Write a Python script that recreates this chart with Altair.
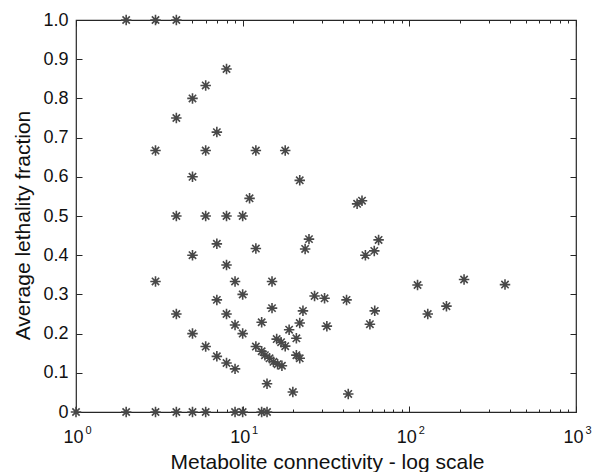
import altair as alt
import pandas as pd

# Data
connectivity = [
    2, 3, 4,
    8, 6, 5, 4, 7, 3, 6, 12, 18, 22, 5, 11, 48.6, 52,
    4, 6, 8, 10,
    7, 12, 5, 8, 25, 23.7, 65.4, 61.6, 54.5,
    3, 9, 15, 10, 7, 27, 31, 42, 112, 213, 375, 167, 129,
    4, 8, 15, 23, 62, 9, 22, 32, 58, 13, 5, 10, 19, 21, 16, 17, 18,
    6, 12, 7, 13, 13.6, 14.5, 15.3, 16.2, 17.2, 21, 22, 8, 9, 14, 20, 43,
    1, 2, 3, 4, 5, 6, 9, 10, 13, 14,
]
lethality = [
    1.0, 1.0, 1.0,
    0.875, 0.833, 0.8, 0.75, 0.714, 0.667, 0.667, 0.667, 0.667, 0.591, 0.6, 0.545, 0.531, 0.539,
    0.5, 0.5, 0.5, 0.5,
    0.429, 0.417, 0.4, 0.375, 0.441, 0.416, 0.439, 0.411, 0.40,
    0.333, 0.333, 0.333, 0.3, 0.286, 0.296, 0.290, 0.286, 0.324, 0.338, 0.325, 0.27, 0.25,
    0.25, 0.25, 0.265, 0.258, 0.258, 0.222, 0.227, 0.219, 0.224, 0.229, 0.2, 0.2, 0.21, 0.188, 0.186, 0.178, 0.168,
    0.167, 0.167, 0.142, 0.155, 0.145, 0.137, 0.128, 0.122, 0.118, 0.145, 0.137, 0.125, 0.11, 0.072, 0.051, 0.046,
    0, 0, 0, 0, 0, 0, 0, 0, 0, 0,
]

x_major = [1, 10, 100, 1000]
x_minor = [2, 3, 4, 5, 6, 7, 8, 9, 20, 30, 40, 50, 60, 70, 80, 90,
           200, 300, 400, 500, 600, 700, 800, 900]
y_ticks = [0, 0.1, 0.2, 0.3, 0.4, 0.5, 0.6, 0.7, 0.8, 0.9, 1.0]

df = pd.DataFrame({"connectivity": connectivity, "lethality": lethality})

W, H = 500, 392
FONT = "Liberation Sans"
AX = "#262626"
xscale = alt.Scale(type="log", domain=[1, 1000], nice=False)
yscale = alt.Scale(domain=[0, 1], nice=False, zero=False)
star = "M-1,0L1,0M0,-1L0,1M-0.7,-0.7L0.7,0.7M-0.7,0.7L0.7,-0.7"


def tick_axis(orient, offset, values, size):
    return alt.Axis(orient=orient, offset=offset, values=values, labels=False,
                    domain=False, grid=False, ticks=True, tickSize=size,
                    tickColor=AX, tickWidth=1, title=None)


base = alt.Chart(df)

points = base.mark_point(shape=star, size=110, color="#484848", strokeWidth=1.6,
                         filled=False, opacity=1, clip=False).encode(
    x=alt.X("connectivity:Q", scale=xscale,
            axis=alt.Axis(orient="bottom", values=x_major, labelExpr="'10'",
                          ticks=False, tickSize=0, domain=False, grid=False,
                          labelFont=FONT, labelFontSize=18, labelColor="#111",
                          labelPadding=30, labelBaseline="alphabetic", labelOffset=-3,
                          labelFlush=False,
                          title="Metabolite connectivity - log scale",
                          titleFont=FONT, titleFontSize=21, titleFontWeight="normal",
                          titleColor="#111", titleX=251, titleY=56,
                          titleAlign="center", titleBaseline="alphabetic")),
    y=alt.Y("lethality:Q", scale=yscale,
            axis=alt.Axis(orient="left", values=y_ticks,
                          labelExpr="datum.value == 0 ? '0' : format(datum.value, '.1f')",
                          ticks=False, tickSize=0, domain=False, grid=False,
                          labelFont=FONT, labelFontSize=18, labelColor="#111",
                          labelPadding=8, labelFlush=False,
                          title="Average lethality fraction",
                          titleFont=FONT, titleFontSize=21, titleFontWeight="normal",
                          titleColor="#111", titleX=-47, titleY=205,
                          titleAlign="center", titleBaseline="alphabetic")),
)

exponents = base.mark_point(opacity=0).encode(
    x=alt.X("connectivity:Q", scale=xscale,
            axis=alt.Axis(orient="bottom", values=x_major,
                          labelExpr="'' + round(log(datum.value) / LN10)",
                          ticks=False, tickSize=0, domain=False, grid=False,
                          labelFont=FONT, labelFontSize=11, labelColor="#111",
                          labelPadding=21, labelBaseline="alphabetic", labelOffset=12,
                          labelFlush=False, title=None)),
    y=alt.Y("lethality:Q", scale=yscale, axis=tick_axis("right", -W, y_ticks, 6)),
)

bottom_major = base.mark_point(opacity=0).encode(
    x=alt.X("connectivity:Q", scale=xscale, axis=tick_axis("top", -H, x_major, 6)),
    y=alt.Y("lethality:Q", scale=yscale, axis=tick_axis("left", -W, y_ticks, 6)),
)
bottom_minor = base.mark_point(opacity=0).encode(
    x=alt.X("connectivity:Q", scale=xscale, axis=tick_axis("top", -H, x_minor, 3)),
    y=alt.Y("lethality:Q", scale=yscale, axis=None),
)
top_major = base.mark_point(opacity=0).encode(
    x=alt.X("connectivity:Q", scale=xscale, axis=tick_axis("bottom", -H, x_major, 6)),
    y=alt.Y("lethality:Q", scale=yscale, axis=None),
)
top_minor = base.mark_point(opacity=0).encode(
    x=alt.X("connectivity:Q", scale=xscale, axis=tick_axis("bottom", -H, x_minor, 3)),
    y=alt.Y("lethality:Q", scale=yscale, axis=None),
)

chart = alt.layer(
    exponents, bottom_major, bottom_minor, top_major, top_minor, points
).resolve_axis(x="independent", y="independent").properties(
    width=W, height=H,
    autosize=alt.AutoSizeParams(type="none"),
    padding={"left": 76, "top": 20, "right": 16, "bottom": 60},
    background="white",
).configure_view(stroke=AX, strokeWidth=1.2)

chart.save("out.html", embed_options={"renderer": "svg", "actions": False})
